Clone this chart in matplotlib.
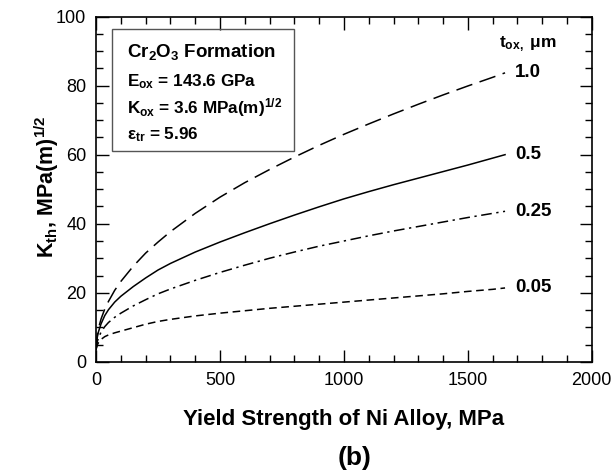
import matplotlib
matplotlib.use('Agg')
from matplotlib import pyplot as plt
from matplotlib.ticker import MultipleLocator

plt.rcParams['font.family'] = ['Liberation Sans', 'DejaVu Sans']
plt.rcParams['mathtext.fontset'] = 'custom'
plt.rcParams['mathtext.rm'] = 'Liberation Sans'
plt.rcParams['mathtext.bf'] = 'Liberation Sans:bold'
plt.rcParams['mathtext.it'] = 'Liberation Sans:italic'

# yield strength of Ni alloy, MPa
sigma_y = [0, 5, 10, 20, 35, 50, 75, 100, 150, 200, 250, 300, 400, 500, 600,
           700, 800, 900, 1000, 1100, 1200, 1300, 1400, 1500, 1600, 1650]

# K_th, MPa(m)^1/2, per oxide thickness
k_10 = [3.6, 8.0, 9.8, 12.4, 15.3, 17.5, 20.7, 23.3, 27.7, 31.5, 34.7, 37.7, 43.0,
        47.7, 51.9, 55.7, 59.3, 62.7, 65.9, 68.9, 71.8, 74.6, 77.3, 79.9, 82.4, 83.7]
k_05 = [3.6, 7.2, 8.8, 11.0, 13.4, 15.1, 17.3, 19.0, 21.8, 24.3, 26.6, 28.5, 31.8,
        34.7, 37.4, 40.0, 42.5, 44.9, 47.2, 49.3, 51.3, 53.2, 55.1, 57.0, 59.0, 60.0]
k_025 = [3.6, 5.9, 7.0, 8.6, 10.2, 11.4, 12.9, 14.1, 16.2, 18.0, 19.7, 21.1, 23.6,
         25.9, 28.0, 30.0, 31.8, 33.5, 35.0, 36.5, 37.9, 39.2, 40.5, 41.8, 43.0, 43.6]
k_005 = [3.6, 4.9, 5.6, 6.5, 7.3, 7.8, 8.4, 8.9, 9.9, 10.9, 11.7, 12.3, 13.3,
         14.1, 14.8, 15.5, 16.1, 16.7, 17.3, 17.9, 18.5, 19.1, 19.7, 20.4, 21.0, 21.4]

t_ox = ['1.0', '0.5', '0.25', '0.05']

fig = plt.figure(figsize=(6.12, 4.73), dpi=100)
ax = fig.add_axes([0.157, 0.235, 0.810, 0.730])

ax.plot(sigma_y, k_10, color='black', lw=1.1, dashes=(11, 5))
ax.plot(sigma_y, k_05, color='black', lw=1.1)
ax.plot(sigma_y, k_025, color='black', lw=1.1, dashes=(7, 3, 1.5, 3))
ax.plot(sigma_y, k_005, color='black', lw=1.1, dashes=(5, 3))

# labels at the ends of the curves
ends = [k_10[-1], k_05[-1], k_025[-1], k_005[-1]]
for lab, yv in zip(t_ox, ends):
    ax.text(1690, yv, lab, fontsize=13.5, fontweight='bold', va='center', ha='left')
fig.text(0.815, 0.901, r't$_{\mathbf{ox,}}$ μm', fontsize=12.5, fontweight='bold',
         va='baseline', ha='left')

ax.set_xlim(0, 2000)
ax.set_ylim(0, 100)
ax.xaxis.set_major_locator(MultipleLocator(500))
ax.xaxis.set_minor_locator(MultipleLocator(100))
ax.yaxis.set_major_locator(MultipleLocator(20))
ax.yaxis.set_minor_locator(MultipleLocator(5))
ax.tick_params(which='both', direction='in', top=True, right=True, labelsize=13, width=1)
ax.tick_params(which='major', length=9, pad=7)
ax.tick_params(which='minor', length=5)
for s in ax.spines.values():
    s.set_linewidth(1.2)

ax.set_xlabel('Yield Strength of Ni Alloy, MPa', fontsize=16, fontweight='bold', va='center')
ax.xaxis.set_label_coords(0.5, -0.168)
ax.set_ylabel(r'K$_{\mathbf{th}}$, MPa(m)$^{\mathbf{1/2}}$', fontsize=15.5, fontweight='bold',
              va='center')
ax.yaxis.set_label_coords(-0.10, 0.507)
fig.text(0.579, 0.032, '(b)', fontsize=19, fontweight='bold', ha='center', va='center')

# property box
box_txt = [
    (r'Cr$_{\mathbf{2}}$O$_{\mathbf{3}}$ Formation', 13.5, 0.880),
    (r'E$_{\mathbf{ox}}$ = 143.6 GPa', 12.3, 0.818),
    (r'K$_{\mathbf{ox}}$ = 3.6 MPa(m)$^{\mathbf{1/2}}$', 12.3, 0.761),
    (r'ε$_{\mathbf{tr}}$ = 5.96', 12.3, 0.706),
]
rect = plt.Rectangle((0.183, 0.681), 0.297, 0.258, transform=fig.transFigure,
                     fill=False, edgecolor='#555555', lw=1)
fig.patches.append(rect)
for txt, fs, yy in box_txt:
    fig.text(0.207, yy, txt, fontsize=fs, fontweight='bold', va='baseline')

fig.savefig('out.png', dpi=100)
